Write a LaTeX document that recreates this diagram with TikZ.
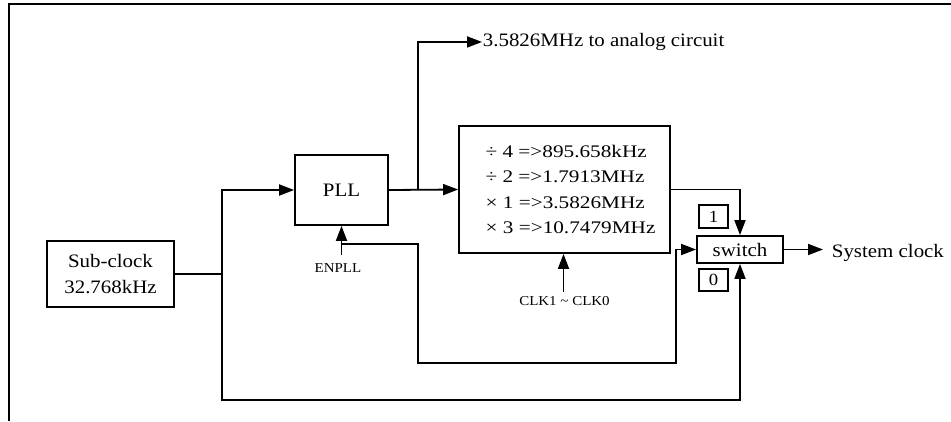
\documentclass[tikz,border=0pt]{standalone}
\usepackage{fontspec}
\setmainfont{Liberation Serif}[FakeStretch=1.1]
\newfontfamily\divfont{Liberation Serif}[FakeStretch=1.2]
\usetikzlibrary{arrows.meta}
\begin{document}
\begin{tikzpicture}[x=1pt,y=-1pt,
  line width=1.8pt,
  box/.style={draw, inner sep=0pt, align=center},
  arr/.style={-{Triangle[length=15pt,width=11pt]}},
  big/.style={font=\fontsize{19}{25.7}\selectfont},
  divtext/.style={font=\divfont\fontsize{17.7}{25.5}\selectfont},
  small/.style={font=\fontsize{13.6}{16}\selectfont},
  lbl/.style={inner sep=0pt}]
\useasboundingbox (0,0) rectangle (951,421);
% frame
\draw[line width=2pt] (8.5,421) -- (8.5,4) -- (951,4);
% boxes
\node[box, big, minimum width=127pt, minimum height=66pt] (sub) at (110.5,274) {Sub-clock\\32.768kHz};
\node[box, big, minimum width=93pt, minimum height=70pt] (pll) at (341.5,190) {PLL};
\node[box, divtext, align=left, minimum width=211pt, minimum height=127pt] (div) at (564.5,189.5)
  {\hspace*{12pt}÷ 4 =>895.658kHz\\\hspace*{12pt}÷ 2 =>1.7913MHz\\\hspace*{12pt}× 1 =>3.5826MHz\\\hspace*{12pt}× 3 =>10.7479MHz};
\node[box, big, minimum width=86pt, minimum height=27pt] (sw) at (740,249.5) {switch};
\node[box, font=\fontsize{17}{20}\selectfont, minimum width=29pt, minimum height=23pt] (b1) at (713.5,216.5) {1};
\node[box, font=\fontsize{17}{20}\selectfont, minimum width=29pt, minimum height=22pt] (b0) at (713.5,280) {0};
% free labels
\node[lbl, big, anchor=base west] (ant) at (482,46.5) {3.5826MHz to analog circuit};
\node[lbl, big, anchor=base west] (sys) at (831,257) {System clock};
\node[lbl, small, anchor=base] (en) at (338,272.3) {ENPLL};
\node[lbl, small, anchor=base] (clk) at (564.5,305.7) {CLK1 \textasciitilde{} CLK0};
% coordinates
\coordinate (ja) at (222,190);
\coordinate (jb) at (222,400);
\coordinate (jc) at (418,190);
\coordinate (enb) at (341.5,255);
\coordinate (fa) at (341.5,244);
\coordinate (fb) at (418,244);
\coordinate (fc) at (418,363);
\coordinate (fd) at (676,363);
\coordinate (ck) at (563.5,292);
\coordinate (so) at (823,249.5);
% connectors
\draw (sub.east) -- (sub.east -| ja);
\draw[arr] (sub.east -| ja) -- (ja) -- (pll.west);
\draw[arr] (sub.east -| ja) -- (jb) -| (sw.south);
\draw[arr] (pll.east) -- (div.west);
\draw[arr] (jc) |- (ant.west);
\draw[arr] (div.east) -| (sw.north);
\draw[arr] (enb) -- (pll.south);
\draw[arr] (fa) -- (fb) -- (fc) -- (fd) |- (sw.west);
\draw[arr] (ck) -- (ck |- div.south);
\draw[arr] (sw.east) -- (so);
\end{tikzpicture}
\end{document}
